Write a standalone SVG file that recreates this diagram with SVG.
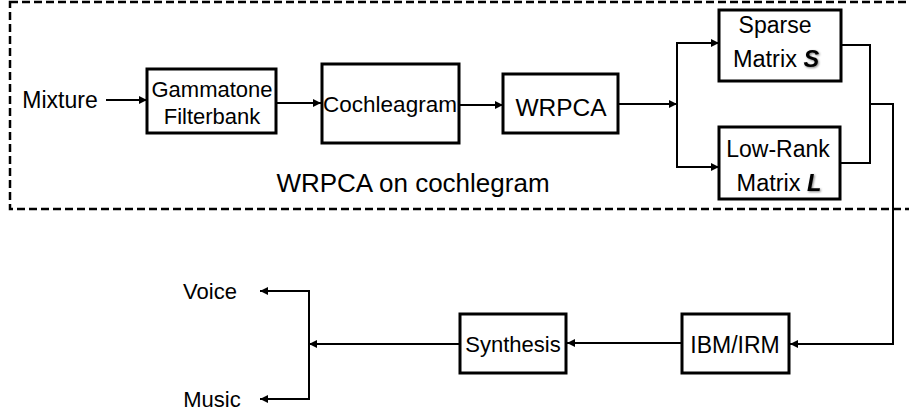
<svg xmlns="http://www.w3.org/2000/svg" width="909" height="414" viewBox="0 0 909 414">
<defs>
<style>
text{font-family:"Liberation Sans",Arial,sans-serif;fill:#000;text-anchor:middle}
.box{fill:#fff;stroke:#000;stroke-width:3}
.c{fill:none;stroke:#000;stroke-width:2}
.a{marker-end:url(#ah)}
.bi{font-weight:bold;font-style:italic;filter:url(#sh)}
</style>
<marker id="ah" viewBox="0 0 10 10" refX="10" refY="5" markerWidth="9" markerHeight="8" markerUnits="userSpaceOnUse" orient="auto">
<path d="M0,0 L10,5 L0,10 z" fill="#000"/>
</marker>
<filter id="sh" x="-30%" y="-30%" width="160%" height="160%">
<feDropShadow dx="1" dy="1" stdDeviation="1" flood-color="#000" flood-opacity="0.5"/>
</filter>
</defs>
<rect x="10" y="2" width="930" height="207" fill="none" stroke="#000" stroke-width="2.5" stroke-dasharray="8 4"/>
<text x="413" y="192" font-size="26">WRPCA on cochlegram</text>
<g id="connectors">
<path class="c a" d="M106,100 H147"/>
<path class="c a" d="M277,103 H321"/>
<path class="c a" d="M459,105 H503"/>
<path class="c a" d="M618,104 H677"/>
<path class="c a" d="M677,104 V43 H719"/>
<path class="c a" d="M677,104 V167 H719"/>
<path class="c" d="M841,45 H870 V163 H841"/>
<path class="c a" d="M870,104 H893 V344 H790"/>
<path class="c a" d="M682,343 H567"/>
<path class="c a" d="M460,344 H309"/>
<path class="c a" d="M309,344 V291 H260"/>
<path class="c a" d="M309,344 V399 H260"/>
</g>
<g id="mixture"><text x="60" y="108" font-size="23">Mixture</text></g>
<g id="gammatone">
<rect class="box" x="147" y="69" width="129" height="64"/>
<text x="212" y="97" font-size="22">Gammatone</text>
<text x="212" y="124" font-size="22">Filterbank</text>
</g>
<g id="cochleagram">
<rect class="box" x="322" y="64" width="137" height="79"/>
<text x="390" y="112" font-size="22.5">Cochleagram</text>
</g>
<g id="wrpca">
<rect class="box" x="503" y="74" width="115" height="59"/>
<text x="561" y="116" font-size="24.5">WRPCA</text>
</g>
<g id="sparse">
<rect class="box" x="719" y="10" width="122" height="71"/>
<text x="775" y="33" font-size="23">Sparse</text>
<text x="776" y="67" font-size="23.5">Matrix <tspan class="bi">S</tspan></text>
</g>
<g id="lowrank">
<rect class="box" x="719" y="127" width="121" height="72"/>
<text x="778" y="157" font-size="23">Low-Rank</text>
<text x="779" y="191" font-size="23.5">Matrix <tspan class="bi">L</tspan></text>
</g>
<g id="ibmirm">
<rect class="box" x="682" y="314" width="107" height="59"/>
<text x="735" y="353" font-size="23">IBM/IRM</text>
</g>
<g id="synthesis">
<rect class="box" x="460" y="314" width="106" height="59"/>
<text x="513" y="352" font-size="22">Synthesis</text>
</g>
<g id="voice"><text x="210" y="299" font-size="22">Voice</text></g>
<g id="music"><text x="212" y="407" font-size="22">Music</text></g>
</svg>
